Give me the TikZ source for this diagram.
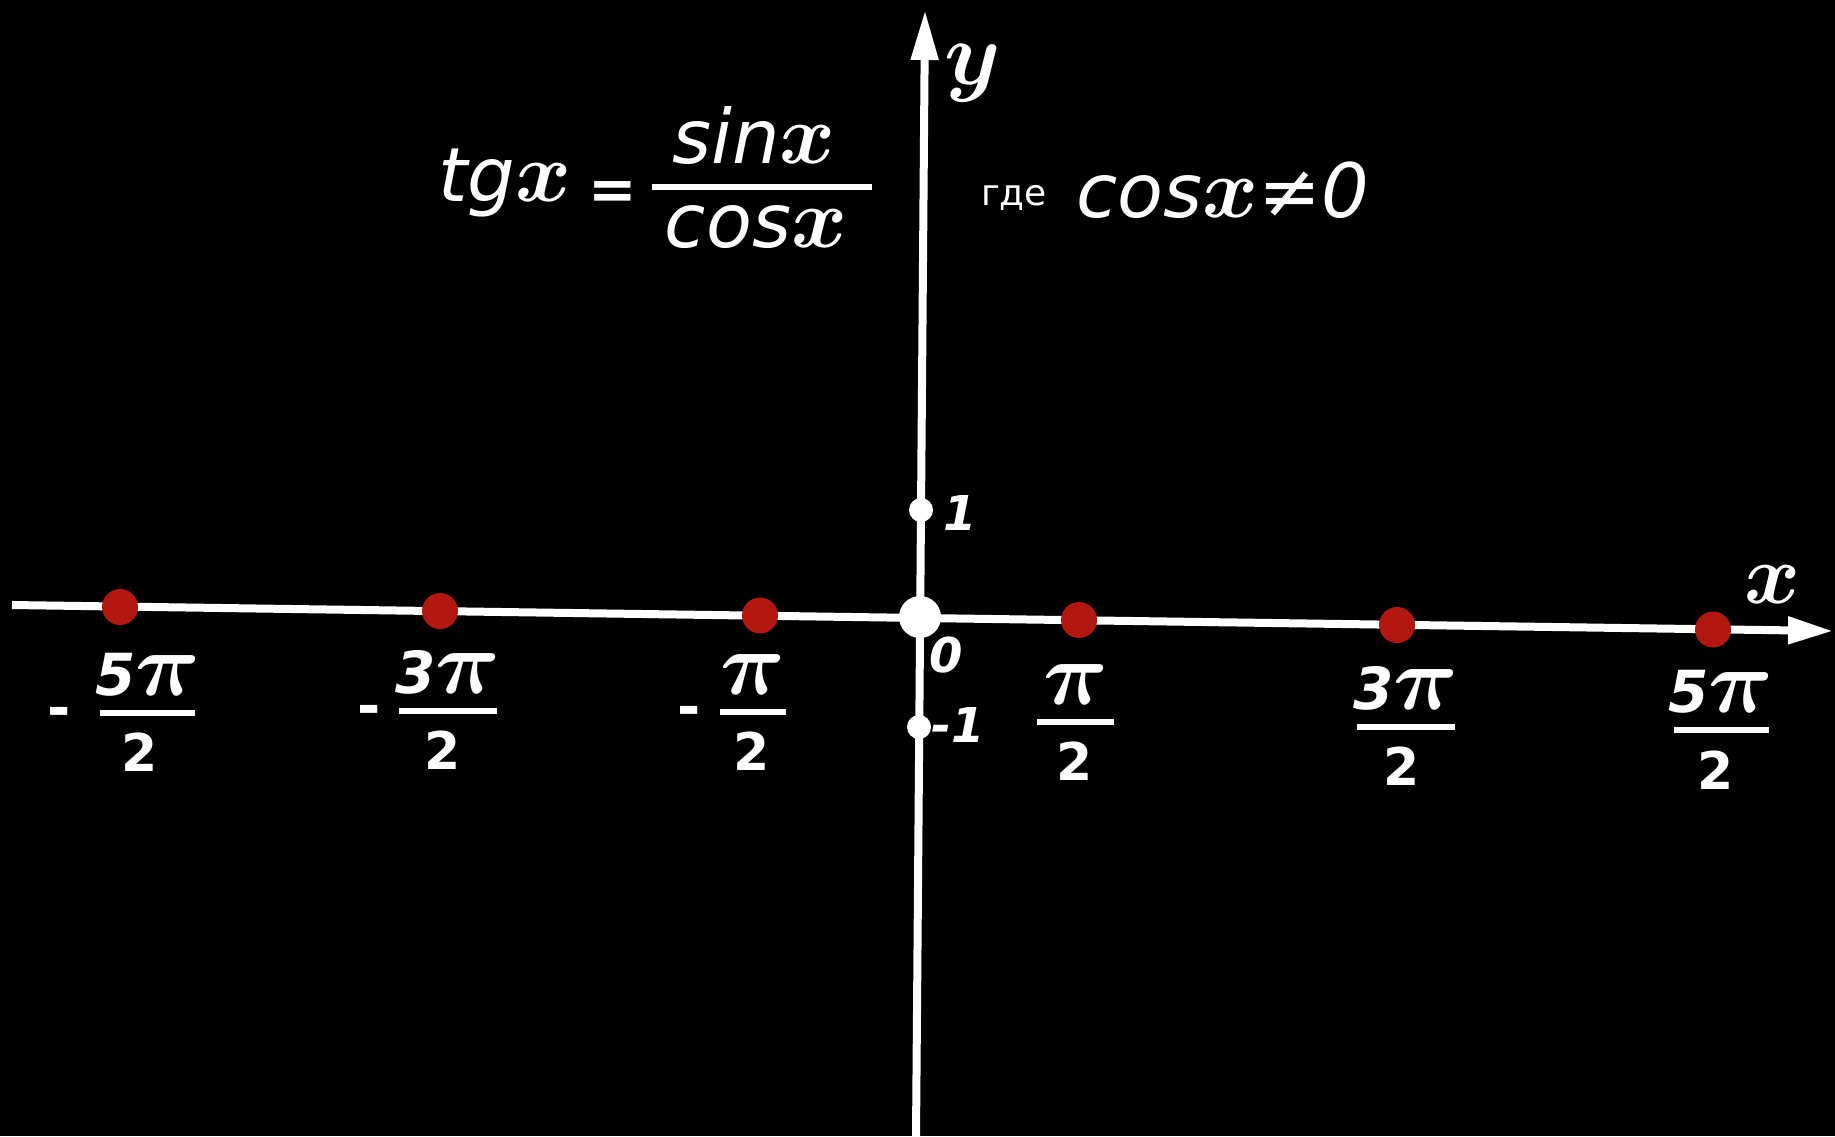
\documentclass[tikz,border=0pt]{standalone}
\usepackage{graphicx}
\usepackage{fontspec}
\setmainfont{DejaVu Sans}
\usetikzlibrary{arrows.meta}
\definecolor{dotred}{RGB}{178,24,16}
\newcommand\fsz[1]{\fontsize{#1}{#1}\selectfont}
\newcommand\mymath[2]{\scalebox{#1}{\fsz{10}\boldmath$#2$}}
\begin{document}
\begin{tikzpicture}[x=1pt,y=-1pt,
  txt/.style={text=white, inner sep=0pt, outer sep=0pt},
  axisline/.style={white, line width=8pt},
  fbar/.style={white, line width=6pt},
  reddot/.style={circle, fill=dotred, minimum size=36pt, inner sep=0pt},
  wdot/.style={circle, fill=white, inner sep=0pt},
  numf/.style={txt, font=\bfseries\itshape\fsz{58}, anchor=base},
  denf/.style={txt, font=\bfseries\fsz{52}, anchor=base},
  minf/.style={txt, font=\bfseries\fsz{56}, anchor=base},
  ticklbl/.style={txt, font=\bfseries\itshape\fsz{48}},
  formf/.style={txt, font=\itshape\fsz{75}},
]
\fill[black] (0,0) rectangle (1835,1136);
\useasboundingbox (0,0) rectangle (1835,1136);

% axes
\coordinate (xl) at (12,605);
\coordinate (xr) at (1833,631);
\coordinate (yb) at (916,1136);
\coordinate (yt) at (925,10);
\draw[axisline,-{Triangle[length=45pt,width=26pt]}] (xl) -- (xr);
\draw[axisline,-{Triangle[length=50pt,width=26pt]}] (yb) -- (yt);

% points on x axis
\node[reddot] (m5) at (120,607) {};
\node[reddot] (m3) at (440,611) {};
\node[reddot] (m1) at (760,615.5) {};
\node[reddot] (p1) at (1079,620) {};
\node[reddot] (p3) at (1397,625) {};
\node[reddot] (p5) at (1713,629.5) {};
\node[wdot, minimum size=42pt] (o) at (920,617) {};
\node[wdot, minimum size=24pt] (t1) at (921,510) {};
\node[wdot, minimum size=24pt] (tm1) at (919,727) {};

% axis labels
\node[ticklbl] (l1) at (960,513) {1};
\node[ticklbl] (lm1) at (958,725) {-1};
\node[ticklbl] (l0) at (946,655) {0};
\node[txt] (lx) at (1772,585) {\mymath{8.5}{x}};
\node[txt] (ly) at (973,73) {\mymath{9}{y}};

% fractions
\node[minf] (s5) at (59,727) {-};
\node[numf] (n5) at (148,695) {5\mymath{9}{\pi}};
\draw[fbar] (100,713) -- (195,713);
\node[denf] (d5) at (140,771) {2};

\node[minf] (s3) at (369,725) {-};
\node[numf] (n3) at (448,693) {3\mymath{9}{\pi}};
\draw[fbar] (399,711) -- (497,711);
\node[denf] (d3) at (443,769) {2};

\node[minf] (s1) at (689,726) {-};
\node[numf] (n1) at (753,694) {\mymath{9}{\pi}};
\draw[fbar] (720,712) -- (786,712);
\node[denf] (d1) at (752,770) {2};

\node[numf] (np1) at (1076,704) {\mymath{9}{\pi}};
\draw[fbar] (1037,722) -- (1114,722);
\node[denf] (dp1) at (1075,780) {2};

\node[numf] (np3) at (1406,709) {3\mymath{9}{\pi}};
\draw[fbar] (1357,727) -- (1455,727);
\node[denf] (dp3) at (1402,785) {2};

\node[numf] (np5) at (1721,712) {5\mymath{9}{\pi}};
\draw[fbar] (1674,730) -- (1769,730);
\node[denf] (dp5) at (1716,789) {2};

% formula
\node[formf, anchor=base west] (tg) at (438,201) {tg\mymath{8.5}{x}};
\node[txt, font=\bfseries\fsz{58}, anchor=base] (eq) at (613,209) {=};
\node[formf, anchor=base] (num) at (754,163) {sin\mymath{8.5}{x}};
\draw[fbar] (652,187) -- (872,187);
\node[formf, anchor=base] (den) at (756,247) {cos\mymath{8.5}{x}};
\node[txt, font=\fsz{36}, anchor=base] (gde) at (1014,205) {где};
\node[formf, anchor=base west] (cond) at (1076,217) {cos\mymath{8.5}{x}≠0};
\end{tikzpicture}
\end{document}
